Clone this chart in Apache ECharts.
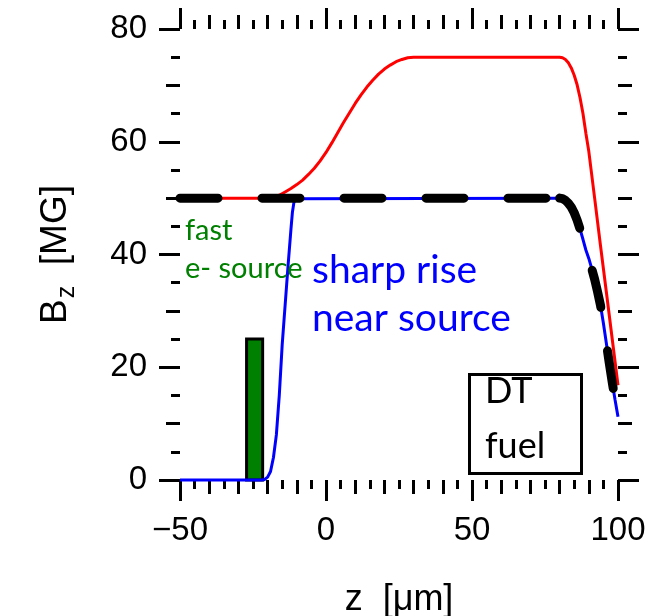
<!DOCTYPE html>
<html>
<head>
<meta charset="utf-8">
<script src="https://cdn.jsdelivr.net/npm/echarts@6/dist/echarts.min.js"></script>
<style>
  html, body { margin: 0; padding: 0; background: #fff; }
  #chart { width: 654px; height: 616px; }
</style>
</head>
<body>
<div id="chart"></div>
<script>
// Axial field profile B_z(z) along the target
const zRed = [-50, -20, -18, -16, -14, -12, -10, -8, -6, -4, -2, 0, 2, 4, 6, 8, 10, 12, 14, 16, 18, 20, 22, 24, 26, 28, 30,
              80, 81, 82, 83, 84, 85, 86, 87, 88, 89, 90, 92, 94, 96, 98, 100];
const bRed = [50, 50, 50.2, 50.5, 51.1, 51.7, 52.4, 53.2, 54.2, 55.3, 56.6, 58.1, 59.8, 61.6, 63.4, 65.1, 66.8, 68.3, 69.7, 70.9, 72.0, 72.9, 73.6, 74.2, 74.6, 74.9, 75,
              75, 74.9, 74.6, 74.0, 73.1, 71.8, 70.1, 67.8, 65.0, 61.5, 58.3, 50.0, 41.6, 33.4, 25.1, 16.8];

const zBlue = [-50, -22, -21, -20, -19, -18, -17, -16, -15, -14, -13, -12, -11.5, -11, -10.5, -10,
               80, 81, 82, 83, 84, 85, 86, 87, 88, 89, 90, 91, 92, 93, 94, 95, 96, 97, 98, 99, 100];
const bBlue = [0, 0, 0.1, 0.5, 1.5, 4, 8, 15, 24, 31, 38, 44.5, 47.5, 49.2, 49.9, 50,
               50, 49.9, 49.6, 49.1, 48.4, 47.4, 46.1, 44.5, 42.7, 40.8, 39.3, 37.5, 35.6, 33.4, 31.0, 27.8, 24.3, 20.8, 17.4, 14.2, 11.2];

// Dashed reference: flat plateau, then the same edge fall-off as the blue profile
const zDashFlat = [-50, 80];
const bDashFlat = [50, 50];
const zDashTail = [80, 81, 82, 83, 84, 85, 86, 87, 88, 89, 90, 91, 92, 93, 94, 95, 96, 97, 98, 99, 100];
const bDashTail = [50, 49.9, 49.6, 49.1, 48.4, 47.4, 46.1, 44.5, 42.7, 40.8, 39.3, 37.5, 35.6, 33.4, 31.0, 27.8, 24.3, 20.8, 17.4, 14.2, 11.2];

// Fast-electron source block: [z start, z end, height]
const sourceBlock = [[-27.2, -21.7, 25]];

const xTicks = [-50, 0, 50, 100];
const xTickLabels = ['\u221250', '0', '50', '100'];
const yTicks = [0, 20, 40, 60, 80];
const yTickLabels = ['0', '20', '40', '60', '80'];

const pairs = (xs, ys) => xs.map((x, i) => [x, ys[i]]);

const chart = echarts.init(document.getElementById('chart'), null, { renderer: 'canvas' });

const tickFont = 'Liberation Sans';
const black = '#000';

function xAxisDef(position, interval, len, withMinor, withLabels) {
  return {
    type: 'value', position, min: -50, max: 100, interval,
    axisLine: { show: false, onZero: false },
    splitLine: { show: false },
    minorSplitLine: { show: false },
    axisTick: { show: true, inside: false, length: len, lineStyle: { color: black, width: 3 } },
    minorTick: { show: withMinor, splitNumber: 10, length: 9, lineStyle: { color: black, width: 3 } },
    axisLabel: withLabels ? {
      show: true, margin: 34, fontSize: 33, fontFamily: tickFont, color: black,
      formatter: v => xTickLabels[xTicks.indexOf(v)]
    } : { show: false },
    name: withLabels ? 'z  [\u03bcm]' : '',
    nameLocation: 'middle', nameGap: 102,
    nameTextStyle: { fontSize: 36, fontFamily: tickFont, color: black }
  };
}

function yAxisDef(position, interval, len, withMinor, withLabels) {
  return {
    type: 'value', position, min: 0, max: 80, interval,
    axisLine: { show: false, onZero: false },
    splitLine: { show: false },
    minorSplitLine: { show: false },
    axisTick: { show: true, inside: false, length: len, lineStyle: { color: black, width: 3 } },
    minorTick: { show: withMinor, splitNumber: 4, length: 9, lineStyle: { color: black, width: 3 } },
    axisLabel: withLabels ? {
      show: true, margin: 33, fontSize: 33, fontFamily: tickFont, color: black,
      formatter: v => yTickLabels[yTicks.indexOf(v)]
    } : { show: false },
    name: withLabels ? '{b|B}{s|z}{b|  [MG]}' : '',
    nameLocation: 'middle', nameGap: 106, nameRotate: 90,
    nameTextStyle: {
      fontFamily: tickFont, color: black,
      rich: {
        b: { fontSize: 37, fontFamily: tickFont, color: black },
        s: { fontSize: 25, fontFamily: tickFont, color: black, verticalAlign: 'bottom', padding: [0, 0, -6, 1] }
      }
    }
  };
}

const lineBase = { type: 'line', xAxisIndex: 0, yAxisIndex: 0, showSymbol: false, symbol: 'none', clip: false, animation: false };
const dashStyle = { color: black, width: 9, type: [38, 44], cap: 'round', join: 'round' };

chart.setOption({
  animation: false,
  grid: { left: 180, right: 36, top: 29, bottom: 136, containLabel: false, outerBoundsMode: 'none' },
  xAxis: [
    xAxisDef('bottom', 50, 21, true, true),
    xAxisDef('bottom', 10, 14, false, false),
    xAxisDef('top', 50, 21, true, false),
    xAxisDef('top', 10, 14, false, false)
  ],
  yAxis: [
    yAxisDef('left', 20, 21, true, true),
    yAxisDef('left', 10, 14, false, false),
    yAxisDef('right', 20, 21, true, false),
    yAxisDef('right', 10, 14, false, false)
  ],
  series: [
    {
      type: 'custom', xAxisIndex: 0, yAxisIndex: 0, z: 1,
      data: sourceBlock,
      encode: { x: [0, 1], y: 2 },
      renderItem: (params, api) => {
        const a = api.coord([api.value(0), 0]);
        const b = api.coord([api.value(1), api.value(2)]);
        return {
          type: 'rect',
          shape: { x: a[0], y: b[1], width: b[0] - a[0], height: a[1] - b[1] },
          style: { fill: '#008000', stroke: black, lineWidth: 3 }
        };
      }
    },
    Object.assign({}, lineBase, { z: 2, data: pairs(zRed, bRed), lineStyle: { color: '#ff0000', width: 3 } }),
    Object.assign({}, lineBase, { z: 3, data: pairs(zBlue, bBlue), lineStyle: { color: '#0000ff', width: 3 } }),
    Object.assign({}, lineBase, { z: 4, data: pairs(zDashFlat, bDashFlat), lineStyle: dashStyle }),
    Object.assign({}, lineBase, { z: 4, data: pairs(zDashTail, bDashTail), lineStyle: dashStyle })
  ],
  graphic: [
    { type: 'text', x: 185, y: 231, z: 10, style: { text: 'fast', font: '29px Lato', fill: '#008000', verticalAlign: 'middle' } },
    { type: 'text', x: 185, y: 269, z: 10, style: { text: 'e- source', font: '29px Lato', fill: '#008000', verticalAlign: 'middle' } },
    { type: 'text', x: 312, y: 270, z: 10, style: { text: 'sharp rise', font: '39px Lato', fill: '#0000ff', verticalAlign: 'middle' } },
    { type: 'text', x: 312, y: 318, z: 10, style: { text: 'near source', font: '39px Lato', fill: '#0000ff', verticalAlign: 'middle' } },
    { type: 'rect', z: 10, shape: { x: 469.5, y: 374.5, width: 112, height: 99 }, style: { fill: '#fff', stroke: black, lineWidth: 3 } },
    { type: 'text', x: 485, y: 391, z: 11, style: { text: 'DT', font: '36px Lato', fill: black, verticalAlign: 'middle' } },
    { type: 'text', x: 485, y: 446, z: 11, style: { text: 'fuel', font: '36px Lato', fill: black, verticalAlign: 'middle' } }
  ]
});
</script>
</body>
</html>
